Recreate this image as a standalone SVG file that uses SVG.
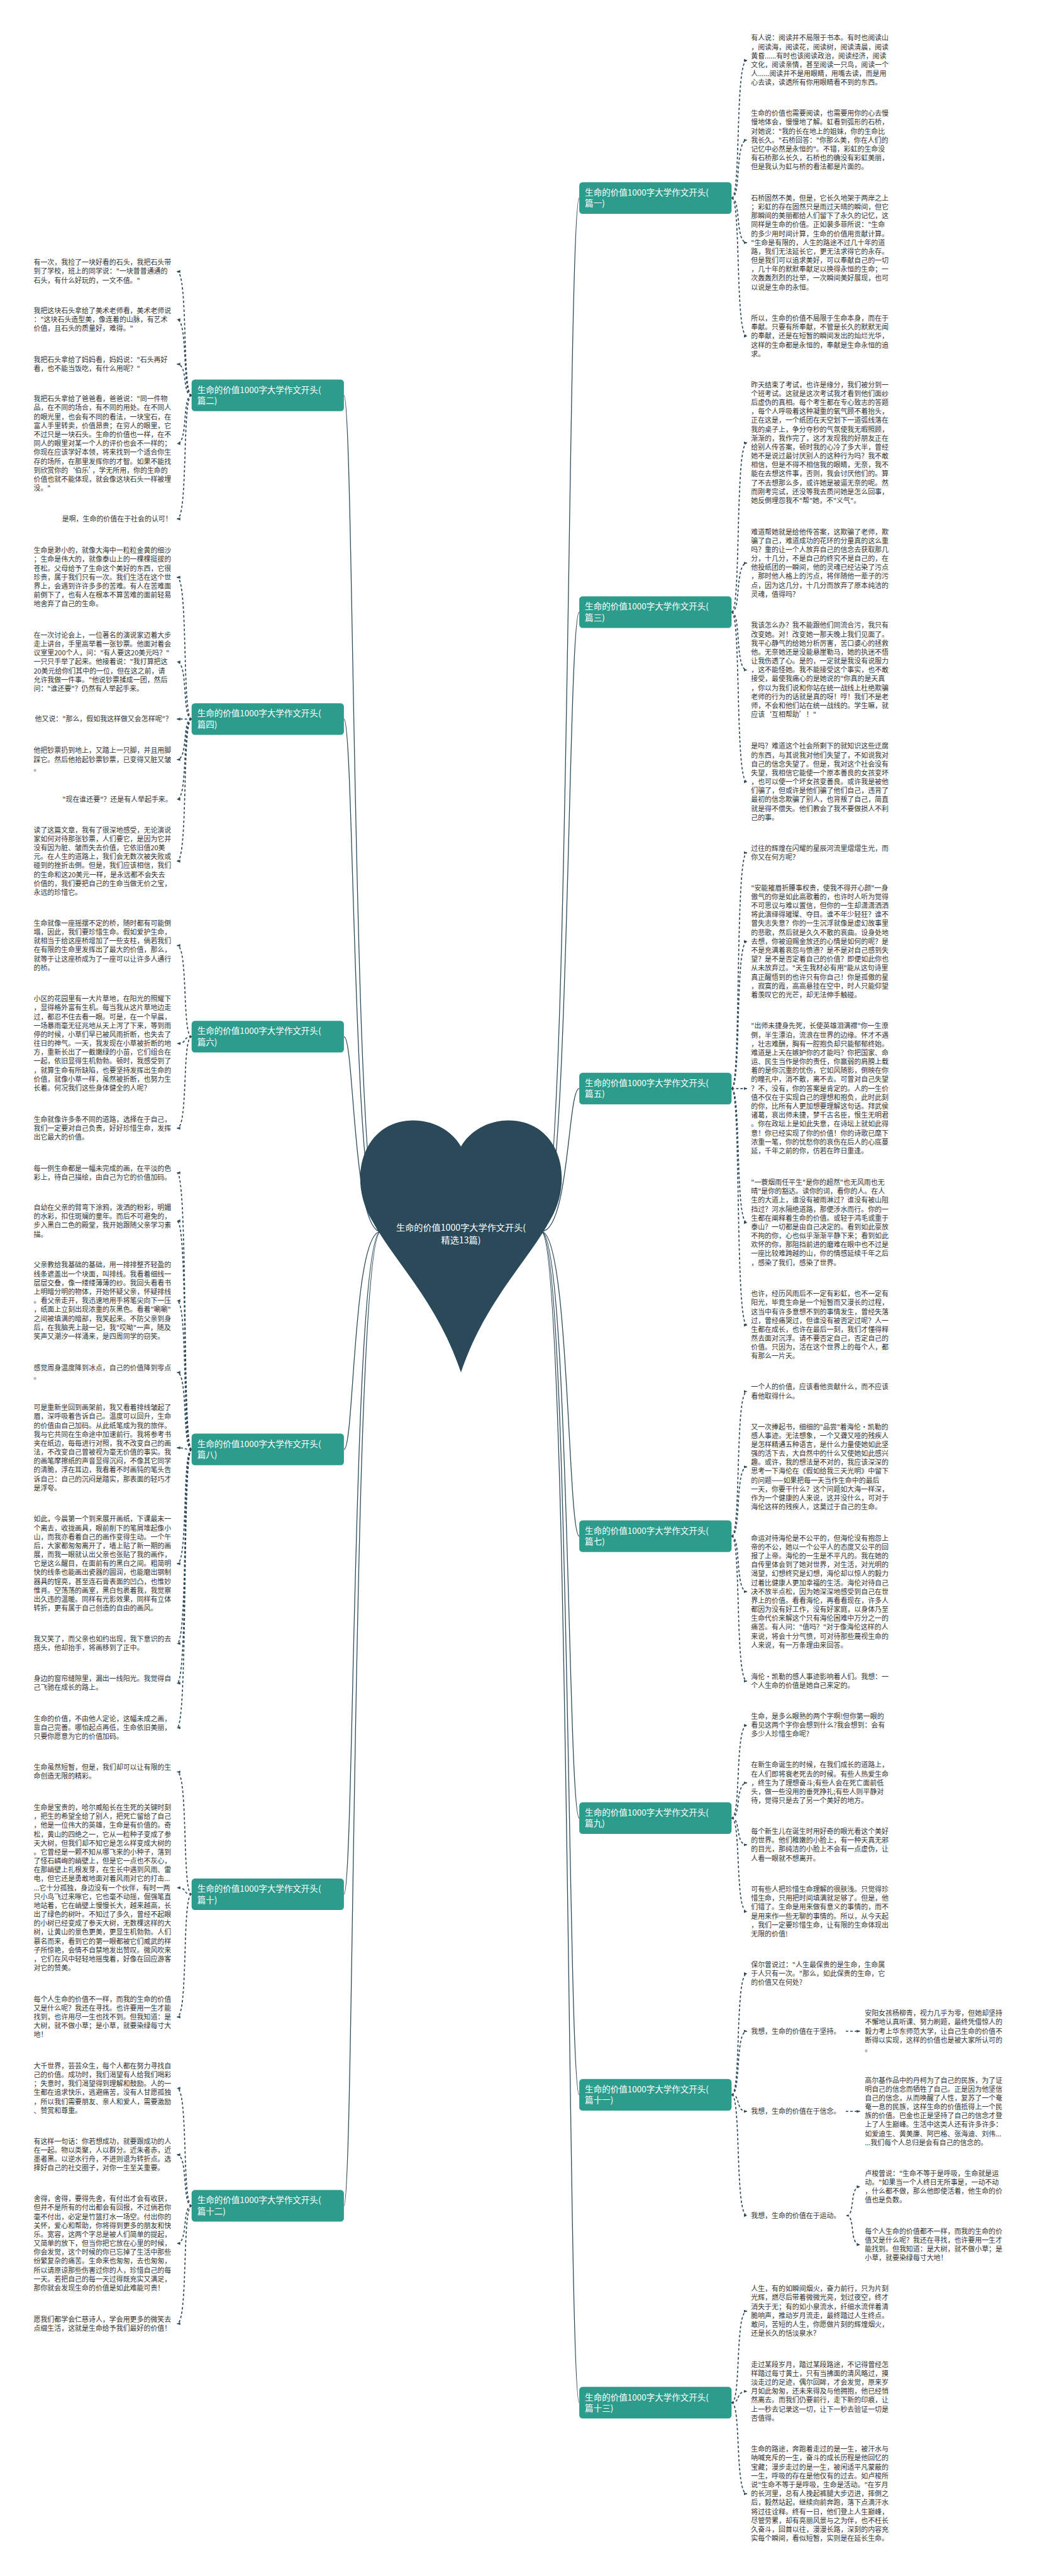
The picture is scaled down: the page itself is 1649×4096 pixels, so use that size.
<svg xmlns="http://www.w3.org/2000/svg" width="1649" height="4096" viewBox="0 0 1649 4096">
<style>
.t{font-family:"Noto Sans CJK SC","Noto Sans CJK JP",sans-serif;font-size:17px;fill:#333}
.e{text-anchor:end}
.nb{fill:#2e9c8c}
.nt{font-family:"Noto Sans CJK SC","Noto Sans CJK JP",sans-serif;font-size:21px;fill:#fff}
.rt{font-family:"Noto Sans CJK SC","Noto Sans CJK JP",sans-serif;font-size:22px;fill:#fff;text-anchor:middle}
.d{fill:none;stroke:#2c4a5a;stroke-width:2.6;stroke-dasharray:6 5;marker-end:url(#a)}
.s{fill:none;stroke:#2c4a5a;stroke-width:2}
</style>
<defs>
<marker id="a" viewBox="0 0 10 10" refX="9" refY="5" markerWidth="9" markerHeight="9" markerUnits="userSpaceOnUse" orient="auto"><path d="M0,1 L10,5 L0,9 z" fill="#2c4a5a"/></marker>
</defs>
<rect width="1649" height="4096" fill="#fff"/>
<g transform="scale(0.64414)">
<g id="connectors">
<g id="root-links">
<path class="s" d="M1336,3040 C1406,3040 1401,489 1430,489"/>
<path class="s" d="M1336,3040 C1406,3040 1401,1511 1430,1511"/>
<path class="s" d="M1336,3040 C1406,3040 1401,2687 1430,2687"/>
<path class="s" d="M1336,3040 C1406,3040 1401,3792 1430,3792"/>
<path class="s" d="M1336,3040 C1406,3040 1401,4488 1430,4488"/>
<path class="s" d="M1336,3040 C1406,3040 1401,5171 1430,5171"/>
<path class="s" d="M1336,3040 C1406,3040 1401,5931 1430,5931"/>
<path class="s" d="M940,3040 C870,3040 875,976 849,976"/>
<path class="s" d="M940,3040 C870,3040 875,1775 849,1775"/>
<path class="s" d="M940,3040 C870,3040 875,2559 849,2559"/>
<path class="s" d="M940,3040 C870,3040 875,3578 849,3578"/>
<path class="s" d="M940,3040 C870,3040 875,4676 849,4676"/>
<path class="s" d="M940,3040 C870,3040 875,5445 849,5445"/>
</g>
<g id="leaf-links-right">
<path class="d" d="M1806,489 C1830,489 1814,149 1844,149"/>
<path class="d" d="M1806,489 C1830,489 1814,346 1844,346"/>
<path class="d" d="M1806,489 C1830,489 1814,599 1844,599"/>
<path class="d" d="M1806,489 C1830,489 1814,830 1844,830"/>
<path class="d" d="M1806,1511 C1830,1511 1814,1093 1844,1093"/>
<path class="d" d="M1806,1511 C1830,1511 1814,1390 1844,1390"/>
<path class="d" d="M1806,1511 C1830,1511 1814,1654 1844,1654"/>
<path class="d" d="M1806,1511 C1830,1511 1814,1930 1844,1930"/>
<path class="d" d="M1806,2687 C1830,2687 1814,2105 1844,2105"/>
<path class="d" d="M1806,2687 C1830,2687 1814,2324 1844,2324"/>
<path class="d" d="M1806,2687 C1830,2687 1814,2687 1844,2687"/>
<path class="d" d="M1806,2687 C1830,2687 1814,3018 1844,3018"/>
<path class="d" d="M1806,2687 C1830,2687 1814,3271 1844,3271"/>
<path class="d" d="M1806,3792 C1830,3792 1814,3435 1844,3435"/>
<path class="d" d="M1806,3792 C1830,3792 1814,3621 1844,3621"/>
<path class="d" d="M1806,3792 C1830,3792 1814,3929 1844,3929"/>
<path class="d" d="M1806,3792 C1830,3792 1814,4150 1844,4150"/>
<path class="d" d="M1806,4488 C1830,4488 1814,4259 1844,4259"/>
<path class="d" d="M1806,4488 C1830,4488 1814,4401 1844,4401"/>
<path class="d" d="M1806,4488 C1830,4488 1814,4554 1844,4554"/>
<path class="d" d="M1806,4488 C1830,4488 1814,4719 1844,4719"/>
<path class="d" d="M1806,5171 C1830,5171 1814,4872 1844,4872"/>
<path class="d" d="M1806,5171 C1830,5171 1814,5014 1844,5014"/>
<path class="d" d="M1806,5171 C1830,5171 1814,5212 1844,5212"/>
<path class="d" d="M1806,5171 C1830,5171 1814,5469 1844,5469"/>
<path class="d" d="M2088,5014 L2123,5014"/>
<path class="d" d="M2088,5212 L2123,5212"/>
<path class="d" d="M2090,5469 C2112,5469 2096,5398 2123,5398"/>
<path class="d" d="M2090,5469 C2112,5469 2096,5541 2123,5541"/>
<path class="d" d="M1806,5931 C1830,5931 1814,5705 1844,5705"/>
<path class="d" d="M1806,5931 C1830,5931 1814,5903 1844,5903"/>
<path class="d" d="M1806,5931 C1830,5931 1814,6156 1844,6156"/>
</g>
<g id="leaf-links-left">
<path class="d" d="M473,976 C449,976 465,670 437,670"/>
<path class="d" d="M473,976 C449,976 465,789 437,789"/>
<path class="d" d="M473,976 C449,976 465,899 437,899"/>
<path class="d" d="M473,976 C449,976 465,1095 437,1095"/>
<path class="d" d="M473,976 C449,976 465,1281 437,1281"/>
<path class="d" d="M473,1775 C449,1775 465,1425 437,1425"/>
<path class="d" d="M473,1775 C449,1775 465,1634 437,1634"/>
<path class="d" d="M473,1775 C449,1775 465,1775 437,1775"/>
<path class="d" d="M473,1775 C449,1775 465,1875 437,1875"/>
<path class="d" d="M473,1775 C449,1775 465,1973 437,1973"/>
<path class="d" d="M473,1775 C449,1775 465,2126 437,2126"/>
<path class="d" d="M473,2559 C449,2559 465,2334 437,2334"/>
<path class="d" d="M473,2559 C449,2559 465,2576 437,2576"/>
<path class="d" d="M473,2559 C449,2559 465,2785 437,2785"/>
<path class="d" d="M473,3578 C449,3578 465,2895 437,2895"/>
<path class="d" d="M473,3578 C449,3578 465,3014 437,3014"/>
<path class="d" d="M473,3578 C449,3578 465,3211 437,3211"/>
<path class="d" d="M473,3578 C449,3578 465,3388 437,3388"/>
<path class="d" d="M473,3578 C449,3578 465,3574 437,3574"/>
<path class="d" d="M473,3578 C449,3578 465,3860 437,3860"/>
<path class="d" d="M473,3578 C449,3578 465,4057 437,4057"/>
<path class="d" d="M473,3578 C449,3578 465,4155 437,4155"/>
<path class="d" d="M473,3578 C449,3578 465,4265 437,4265"/>
<path class="d" d="M473,4676 C449,4676 465,4374 437,4374"/>
<path class="d" d="M473,4676 C449,4676 465,4660 437,4660"/>
<path class="d" d="M473,4676 C449,4676 465,4979 437,4979"/>
<path class="d" d="M473,5445 C449,5445 465,5155 437,5155"/>
<path class="d" d="M473,5445 C449,5445 465,5319 437,5319"/>
<path class="d" d="M473,5445 C449,5445 465,5538 437,5538"/>
<path class="d" d="M473,5445 C449,5445 465,5736 437,5736"/>
</g>
</g>

<g id="root">
<path fill="#2a4a5a" d="M1138,2830 C1100,2765 1010,2748 950,2785 C880,2830 872,2935 918,3012 C978,3120 1080,3215 1138,3388 C1196,3215 1298,3120 1358,3012 C1404,2935 1396,2830 1326,2785 C1266,2748 1176,2765 1138,2830 Z"/>
<text class="rt" x="1138" y="3038">生命的价值1000字大学作文开头(<tspan x="1138" dy="32">精选13篇)</tspan></text>
</g>

<g id="n1"><rect class="nb" x="1430" y="450" width="376" height="78" rx="8"/><text class="nt" x="1444" y="483">生命的价值1000字大学作文开头(<tspan x="1444" dy="27">篇一)</tspan></text></g>
<g id="n3"><rect class="nb" x="1430" y="1472" width="376" height="78" rx="8"/><text class="nt" x="1444" y="1505">生命的价值1000字大学作文开头(<tspan x="1444" dy="27">篇三)</tspan></text></g>
<g id="n5"><rect class="nb" x="1430" y="2648" width="376" height="78" rx="8"/><text class="nt" x="1444" y="2681">生命的价值1000字大学作文开头(<tspan x="1444" dy="27">篇五)</tspan></text></g>
<g id="n7"><rect class="nb" x="1430" y="3753" width="376" height="78" rx="8"/><text class="nt" x="1444" y="3786">生命的价值1000字大学作文开头(<tspan x="1444" dy="27">篇七)</tspan></text></g>
<g id="n9"><rect class="nb" x="1430" y="4449" width="376" height="78" rx="8"/><text class="nt" x="1444" y="4482">生命的价值1000字大学作文开头(<tspan x="1444" dy="27">篇九)</tspan></text></g>
<g id="n11"><rect class="nb" x="1430" y="5132" width="376" height="78" rx="8"/><text class="nt" x="1444" y="5165">生命的价值1000字大学作文开头(<tspan x="1444" dy="27">篇十一)</tspan></text></g>
<g id="n13"><rect class="nb" x="1430" y="5892" width="376" height="78" rx="8"/><text class="nt" x="1444" y="5925">生命的价值1000字大学作文开头(<tspan x="1444" dy="27">篇十三)</tspan></text></g>
<g id="n2"><rect class="nb" x="473" y="937" width="376" height="78" rx="8"/><text class="nt" x="487" y="970">生命的价值1000字大学作文开头(<tspan x="487" dy="27">篇二)</tspan></text></g>
<g id="n4"><rect class="nb" x="473" y="1736" width="376" height="78" rx="8"/><text class="nt" x="487" y="1769">生命的价值1000字大学作文开头(<tspan x="487" dy="27">篇四)</tspan></text></g>
<g id="n6"><rect class="nb" x="473" y="2520" width="376" height="78" rx="8"/><text class="nt" x="487" y="2553">生命的价值1000字大学作文开头(<tspan x="487" dy="27">篇六)</tspan></text></g>
<g id="n8"><rect class="nb" x="473" y="3539" width="376" height="78" rx="8"/><text class="nt" x="487" y="3572">生命的价值1000字大学作文开头(<tspan x="487" dy="27">篇八)</tspan></text></g>
<g id="n10"><rect class="nb" x="473" y="4637" width="376" height="78" rx="8"/><text class="nt" x="487" y="4670">生命的价值1000字大学作文开头(<tspan x="487" dy="27">篇十)</tspan></text></g>
<g id="n12"><rect class="nb" x="473" y="5406" width="376" height="78" rx="8"/><text class="nt" x="487" y="5439">生命的价值1000字大学作文开头(<tspan x="487" dy="27">篇十二)</tspan></text></g>

<g id="r1"><text class="t" x="1854" y="100">有人说：阅读并不局限于书本。有时也阅读山<tspan x="1854" dy="22">，阅读海，阅读花，阅读树，阅读清晨，阅读</tspan><tspan x="1854" dy="22">黄昏......有时也该阅读政治，阅读经济，阅读</tspan><tspan x="1854" dy="22">文化，阅读亲情，甚至阅读一只鸟，阅读一个</tspan><tspan x="1854" dy="22">人......阅读并不是用眼睛，用嘴去读，而是用</tspan><tspan x="1854" dy="22">心去读，读透所有你用眼睛看不到的东西。</tspan></text></g>
<g id="r2"><text class="t" x="1854" y="286">生命的价值也需要阅读，也需要用你的心去慢<tspan x="1854" dy="22">慢地体会，慢慢地了解。虹看到弧形的石桥，</tspan><tspan x="1854" dy="22">对她说："我的长在地上的姐妹，你的生命比</tspan><tspan x="1854" dy="22">我长久。"石桥回答："你那么美，你在人们的</tspan><tspan x="1854" dy="22">记忆中必然是永恒的"。不错，彩虹的生命没</tspan><tspan x="1854" dy="22">有石桥那么长久，石桥也的确没有彩虹美丽，</tspan><tspan x="1854" dy="22">但是我认为虹与桥的看法都是片面的。</tspan></text></g>
<g id="r3"><text class="t" x="1854" y="495">石桥固然不美，但是，它长久地架于两岸之上<tspan x="1854" dy="22">；彩虹的存在固然只是雨过天晴的瞬间，但它</tspan><tspan x="1854" dy="22">那瞬间的美丽都给人们留下了永久的记忆，这</tspan><tspan x="1854" dy="22">同样是生命的价值。正如裴多菲所说："生命</tspan><tspan x="1854" dy="22">的多少用时间计算，生命的价值用贡献计算。</tspan><tspan x="1854" dy="22">"生命是有限的，人生的路途不过几十年的道</tspan><tspan x="1854" dy="22">路，我们无法延长它，更无法求得它的永存。</tspan><tspan x="1854" dy="22">但是我们可以追求美好，可以奉献自己的一切</tspan><tspan x="1854" dy="22">，几十年的默默奉献足以换得永恒的生命；一</tspan><tspan x="1854" dy="22">次轰轰烈烈的壮举，一次瞬间美好展现，也可</tspan><tspan x="1854" dy="22">以说是生命的永恒。</tspan></text></g>
<g id="r4"><text class="t" x="1854" y="792">所以，生命的价值不局限于生命本身，而在于<tspan x="1854" dy="22">奉献。只要有所奉献，不管是长久的默默无闻</tspan><tspan x="1854" dy="22">的奉献，还是在短暂的瞬间发出的灿烂光华，</tspan><tspan x="1854" dy="22">这样的生命都是永恒的，奉献是生命永恒的追</tspan><tspan x="1854" dy="22">求。</tspan></text></g>
<g id="r5"><text class="t" x="1854" y="956">昨天结束了考试，也许是缘分，我们被分到一<tspan x="1854" dy="22">个班考试。这就是这次考试我才看到他们面纱</tspan><tspan x="1854" dy="22">后虚伪的真相。每个考生都在专心致志的答题</tspan><tspan x="1854" dy="22">，每个人呼吸着这种凝重的氧气顾不着抬头，</tspan><tspan x="1854" dy="22">正在这是，一个纸团在天空划下一道弧线落在</tspan><tspan x="1854" dy="22">我的桌子上，争分夺秒的气氛使我无暇照顾，</tspan><tspan x="1854" dy="22">渐渐的，我作完了，这才发现我的好朋友正在</tspan><tspan x="1854" dy="22">给别人传答案，顿时我的心冷了多大半，曾经</tspan><tspan x="1854" dy="22">她不是说过最讨厌别人的这种行为吗？我不敢</tspan><tspan x="1854" dy="22">相信，但是不得不相信我的眼睛，无奈，我不</tspan><tspan x="1854" dy="22">能在去想这件事，否则，我会讨厌他们的。算</tspan><tspan x="1854" dy="22">了不去想那么多，或许她是被逼无奈的呢。然</tspan><tspan x="1854" dy="22">而刚考完试，还没等我去质问她是怎么回事，</tspan><tspan x="1854" dy="22">她反倒埋怨我不"帮"她，不"义气"。</tspan></text></g>
<g id="r6"><text class="t" x="1854" y="1319">难道帮她就是给他传答案，这欺骗了老师，欺<tspan x="1854" dy="22">骗了自己，难道成功的花环的分量真的这么重</tspan><tspan x="1854" dy="22">吗？重的让一个人放弃自己的信念去获取那几</tspan><tspan x="1854" dy="22">分，十几分，不是自己的终究不是自己的，在</tspan><tspan x="1854" dy="22">他投纸团的一瞬间，他的灵魂已经沾染了污点</tspan><tspan x="1854" dy="22">，那时他人格上的污点，将伴随他一辈子的污</tspan><tspan x="1854" dy="22">点，因为这几分，十几分而放弃了原本纯洁的</tspan><tspan x="1854" dy="22">灵魂，值得吗？</tspan></text></g>
<g id="r7"><text class="t" x="1854" y="1550">我该怎么办？我不能跟他们同流合污，我只有<tspan x="1854" dy="22">改变她。对！改变她一那天晚上我们见面了。</tspan><tspan x="1854" dy="22">我平心静气的给她分析厉害，苦口婆心的拯救</tspan><tspan x="1854" dy="22">他。无奈她还是没能悬崖勒马，她的执迷不悟</tspan><tspan x="1854" dy="22">让我伤透了心。是的，一定就是我没有说服力</tspan><tspan x="1854" dy="22">，这不能怪她。我不能接受这个事实，也不敢</tspan><tspan x="1854" dy="22">接受，最使我痛心的是她说的"你真的是天真</tspan><tspan x="1854" dy="22">，你以为我们说和你站在统一战线上杜绝欺骗</tspan><tspan x="1854" dy="22">老师的行为的话就是真的呀！哼！我们不是老</tspan><tspan x="1854" dy="22">师，不会和他们站在统一战线的。学生嘛，就</tspan><tspan x="1854" dy="22">应该‘互相帮助’！"</tspan></text></g>
<g id="r8"><text class="t" x="1854" y="1848">是吗？难道这个社会所剩下的就知识这些迂腐<tspan x="1854" dy="22">的东西，与其说我对他们失望了，不如说我对</tspan><tspan x="1854" dy="22">自己的信念失望了。但是，我对这个社会没有</tspan><tspan x="1854" dy="22">失望，我相信它能使一个原本善良的女孩变坏</tspan><tspan x="1854" dy="22">，也可以使一个坏女孩变善良。或许我是被他</tspan><tspan x="1854" dy="22">们骗了，但或许是他们骗了他们自己，违背了</tspan><tspan x="1854" dy="22">最初的信念欺骗了别人，也背叛了自己，简直</tspan><tspan x="1854" dy="22">就是得不偿失。他们教会了我不要做损人不利</tspan><tspan x="1854" dy="22">己的事。</tspan></text></g>
<g id="r9"><text class="t" x="1854" y="2100">过往的辉煌在闪耀的星辰河流里熠熠生光，而<tspan x="1854" dy="22">你又在何方呢？</tspan></text></g>
<g id="r10"><text class="t" x="1854" y="2198">"安能摧眉折腰事权贵，使我不得开心颜"一身<tspan x="1854" dy="22">傲气的你是如此高歌着的，也许时人听为觉得</tspan><tspan x="1854" dy="22">不可思议与难以置信，但你的一生却潇潇洒洒</tspan><tspan x="1854" dy="22">将此演绎得璀璨、夺目。谁不年少轻狂？谁不</tspan><tspan x="1854" dy="22">曾失志失意？你的一生沉浮就像是虚幻故事里</tspan><tspan x="1854" dy="22">的悲歌，然后就是久久不散的哀曲。设身处地</tspan><tspan x="1854" dy="22">去想，你被迫赐金放还的心情是如何的呢？是</tspan><tspan x="1854" dy="22">不是充满着哀怨与愤懑？是不是对自己感到失</tspan><tspan x="1854" dy="22">望？是不是否定着自己的价值？即便如此你也</tspan><tspan x="1854" dy="22">从未放弃过。"天生我材必有用"能从这句诗里</tspan><tspan x="1854" dy="22">真正醒悟到的也许只有你自己！你是孤傲的星</tspan><tspan x="1854" dy="22">，寂寞的霞，高高悬挂在空中，时人只能仰望</tspan><tspan x="1854" dy="22">着羡叹它的光芒，却无法伸手触碰。</tspan></text></g>
<g id="r11"><text class="t" x="1854" y="2539">"出师未捷身先死，长使英雄泪满襟"你一生潦<tspan x="1854" dy="22">倒，半生漂泊，流浪在世界的边缘。怀才不遇</tspan><tspan x="1854" dy="22">，壮志难酬，胸有一腔抱负却只能郁郁终始。</tspan><tspan x="1854" dy="22">难道是上天在嫉妒你的才能吗？你把国家、命</tspan><tspan x="1854" dy="22">运、民生当作是你的责任，你羸弱的肩膀上载</tspan><tspan x="1854" dy="22">着的是你沉重的忧伤，它如风随影，倒映在你</tspan><tspan x="1854" dy="22">的瞳孔中，消不散，离不去。可曾对自己失望</tspan><tspan x="1854" dy="22">？不，没有，你的答案是肯定的。人的一生价</tspan><tspan x="1854" dy="22">值不仅在于实现自己的理想和抱负，此时此刻</tspan><tspan x="1854" dy="22">的你，比所有人更加想要理解这句话。拜武侯</tspan><tspan x="1854" dy="22">诸葛，哀出师未捷，梦千古名臣，恨生无明君</tspan><tspan x="1854" dy="22">。你在政坛上是如此失意，在诗坛上就如此得</tspan><tspan x="1854" dy="22">意！你已经实现了你的价值！你的诗歌已麾下</tspan><tspan x="1854" dy="22">浓重一笔，你的忧愁你的哀伤在后人的心底蔓</tspan><tspan x="1854" dy="22">延，千年之前的你，仿若在昨日重逢。</tspan></text></g>
<g id="r12"><text class="t" x="1854" y="2925">"一蓑烟雨任平生"是你的超然"也无风雨也无<tspan x="1854" dy="22">晴"是你的豁达。读你的词，看你的人。在人</tspan><tspan x="1854" dy="22">生的大道上，谁没有被雨淋过？谁没有被山阻</tspan><tspan x="1854" dy="22">挡过？河水隔绝道路，那便涉水而行。你的一</tspan><tspan x="1854" dy="22">生都在阐释着生命的价值。或轻于鸿毛或重于</tspan><tspan x="1854" dy="22">泰山？一切都是由自己决定的。看到如此豪放</tspan><tspan x="1854" dy="22">不拘的你，心也似乎渐渐平静下来；看到如此</tspan><tspan x="1854" dy="22">欢怀的你，那阻挡前进的磨难在眼中也不过是</tspan><tspan x="1854" dy="22">一座比较难跨越的山，你的情感延续千年之后</tspan><tspan x="1854" dy="22">，感染了我们，感染了世界。</tspan></text></g>
<g id="r13"><text class="t" x="1854" y="3200">也许，经历风雨后不一定有彩虹，也不一定有<tspan x="1854" dy="22">阳光，毕竟生命是一个短暂而又漫长的过程，</tspan><tspan x="1854" dy="22">这当中有许多意想不到的事情发生，曾经失落</tspan><tspan x="1854" dy="22">过，曾经痛哭过，但谁没有被否定过呢？人一</tspan><tspan x="1854" dy="22">生都在成长，也许在最后一刻，我们才懂得释</tspan><tspan x="1854" dy="22">然去面对沉浮。请不要否定自己，否定自己的</tspan><tspan x="1854" dy="22">价值。只因为，活在这个世界上的每个人，都</tspan><tspan x="1854" dy="22">有那么一片天。</tspan></text></g>
<g id="r14"><text class="t" x="1854" y="3430">一个人的价值，应该看他贡献什么，而不应该<tspan x="1854" dy="22">看他取得什么。</tspan></text></g>
<g id="r15"><text class="t" x="1854" y="3528">又一次捧起书，细细的"品尝"着海伦·凯勒的<tspan x="1854" dy="22">感人事迹。无法想象，一个又聋又哑的残疾人</tspan><tspan x="1854" dy="22">是怎样精通五种语言，是什么力量使她如此坚</tspan><tspan x="1854" dy="22">强的活下去，大自然中的什么又使她如此感兴</tspan><tspan x="1854" dy="22">趣。或许，我的想法是不对的，我应该深深的</tspan><tspan x="1854" dy="22">思考一下海伦在《假如给我三天光明》中留下</tspan><tspan x="1854" dy="22">的问题——如果把每一天当作生命中的最后</tspan><tspan x="1854" dy="22">一天，你要干什么？这个问题如大海一样深，</tspan><tspan x="1854" dy="22">作为一个健康的人来说，这并没什么，可对于</tspan><tspan x="1854" dy="22">海伦这样的残疾人，这莫过于自己的生命。</tspan></text></g>
<g id="r16"><text class="t" x="1854" y="3803">命运对待海伦是不公平的，但海伦没有抱怨上<tspan x="1854" dy="22">帝的不公，她以一个公平人的态度又公平的回</tspan><tspan x="1854" dy="22">报了上帝。海伦的一生是不平凡的。我在她的</tspan><tspan x="1854" dy="22">自传里体会到了她对世界，对生活，对光明的</tspan><tspan x="1854" dy="22">渴望，幻想终究是幻想，海伦却以惊人的毅力</tspan><tspan x="1854" dy="22">过着比健康人更加幸福的生活。海伦对待自己</tspan><tspan x="1854" dy="22">决不放半点松，因为她深深地感受到自己在世</tspan><tspan x="1854" dy="22">界上的价值。看看海伦，再看看现在，许多人</tspan><tspan x="1854" dy="22">都因为没有好工作，没有好家庭，以身体乃至</tspan><tspan x="1854" dy="22">生命代价来解这个只有海伦困难中万分之一的</tspan><tspan x="1854" dy="22">痛苦。有人问："值吗？"对于像海伦这样的人</tspan><tspan x="1854" dy="22">来说，将会十分气愤，可对待那些蔑视生命的</tspan><tspan x="1854" dy="22">人来说，有一万条理由来回答。</tspan></text></g>
<g id="r17"><text class="t" x="1854" y="4145">海伦·凯勒的感人事迹影响着人们。我想：一<tspan x="1854" dy="22">个人生命的价值是她自己来定的。</tspan></text></g>
<g id="r18"><text class="t" x="1854" y="4243">生命，是多么眼熟的两个字啊!但你第一眼的<tspan x="1854" dy="22">看见这两个字你会想到什么?我会想到：会有</tspan><tspan x="1854" dy="22">多少人珍惜生命呢?</tspan></text></g>
<g id="r19"><text class="t" x="1854" y="4363">在新生命诞生的时候，在我们成长的道路上，<tspan x="1854" dy="22">在人们即将衰老死去的时候。有些人热爱生命</tspan><tspan x="1854" dy="22">，终生为了理想奋斗;有些人会在死亡面前低</tspan><tspan x="1854" dy="22">头，做一些没用的垂死挣扎;有些人则平静对</tspan><tspan x="1854" dy="22">待，觉得只是去了另一个美好的地方。</tspan></text></g>
<g id="r20"><text class="t" x="1854" y="4527">每个新生儿在诞生时用好奇的眼光看这个美好<tspan x="1854" dy="22">的世界。他们稚嫩的小脸上，有一种天真无邪</tspan><tspan x="1854" dy="22">的目光，那纯洁的小脸上不会有一点虚伪，让</tspan><tspan x="1854" dy="22">人看一眼就不想离开。</tspan></text></g>
<g id="r21"><text class="t" x="1854" y="4670">可有些人把珍惜生命理解的很肤浅。只觉得珍<tspan x="1854" dy="22">惜生命，只用把时间填满就足够了。但是，他</tspan><tspan x="1854" dy="22">们错了。生命是用来做有意义的事情的，而不</tspan><tspan x="1854" dy="22">是用来作一些无聊的事情的。所以，从今天起</tspan><tspan x="1854" dy="22">，我们一定要珍惜生命，让有限的生命体现出</tspan><tspan x="1854" dy="22">无限的价值!</tspan></text></g>
<g id="r22"><text class="t" x="1854" y="4856">保尔曾说过："人生最保贵的是生命，生命属<tspan x="1854" dy="22">于人只有一次。"那么，如此保贵的生命，它</tspan><tspan x="1854" dy="22">的价值又在何处?</tspan></text></g>
<g id="r23"><text class="t" x="1854" y="5020">我想，生命的价值在于坚持。</text></g>
<g id="r24"><text class="t" x="1854" y="5218">我想，生命的价值在于信念。</text></g>
<g id="r25"><text class="t" x="1854" y="5475">我想，生命的价值在于运动。</text></g>
<g id="s1"><text class="t" x="2135" y="4976">安阳女孩杨柳青，视力几乎为零，但她却坚持<tspan x="2135" dy="22">不懈地认真听课、努力刷题，最终凭借惊人的</tspan><tspan x="2135" dy="22">毅力考上华东师范大学，让自己生命的价值不</tspan><tspan x="2135" dy="22">断得以实现，这样的价值也是被大家所认可的</tspan><tspan x="2135" dy="22">。</tspan></text></g>
<g id="s2"><text class="t" x="2135" y="5141">高尔基作品中的丹柯为了自己的民族，为了证<tspan x="2135" dy="22">明自己的信念而牺牲了自己。正是因为他坚信</tspan><tspan x="2135" dy="22">自己的信念，从而唤醒了人性，复苏了一个奄</tspan><tspan x="2135" dy="22">奄一息的民族，这样生命的价值抵得上一个民</tspan><tspan x="2135" dy="22">族的价值。巴金也正是坚持了自己的信念才登</tspan><tspan x="2135" dy="22">上了人生巅峰。生活中这类人还有许多许多：</tspan><tspan x="2135" dy="22">如爱迪生、黄美廉、阿巴格、张海迪、刘伟...</tspan><tspan x="2135" dy="22">...我们每个人总归是会有自己的信念的。</tspan></text></g>
<g id="s3"><text class="t" x="2135" y="5371">卢梭曾说："生命不等于是呼吸，生命就是运<tspan x="2135" dy="22">动。"如果当一个人终日无所事是，一动不动</tspan><tspan x="2135" dy="22">，什么都不做，那么他即使活着，他生命的价</tspan><tspan x="2135" dy="22">值也是负数。</tspan></text></g>
<g id="s4"><text class="t" x="2135" y="5514">每个人生命的价值都不一样，而我的生命的价<tspan x="2135" dy="22">值又是什么呢？我还在寻找，也许要用一生才</tspan><tspan x="2135" dy="22">能找到。但我知道：是大树，就不做小草；是</tspan><tspan x="2135" dy="22">小草，就要染绿每寸大地！</tspan></text></g>
<g id="r26"><text class="t" x="1854" y="5656">人生，有的如瞬间烟火，奋力前行，只为片刻<tspan x="1854" dy="22">光辉，燃尽后带着微微光亮，划过夜空，终才</tspan><tspan x="1854" dy="22">消失于无；有的如小泉流水，纤细水流伴着清</tspan><tspan x="1854" dy="22">脆响声，推动岁月流走，最终踏过人生终点。</tspan><tspan x="1854" dy="22">敢问，苦短的人生，你愿做片刻的辉煌烟火，</tspan><tspan x="1854" dy="22">还是长久的恬淡泉水？</tspan></text></g>
<g id="r27"><text class="t" x="1854" y="5843">走过某段岁月，踏过某段路途，不记得曾经怎<tspan x="1854" dy="22">样踏过每寸黄土，只有当拂面的清风略过，摸</tspan><tspan x="1854" dy="22">淡走过的足迹，偶尔回眸，才会发觉，原来岁</tspan><tspan x="1854" dy="22">月如此匆匆，还未来得及与他拥抱，他已经悄</tspan><tspan x="1854" dy="22">然离去。而我们仍要前行，走下新的印痕，让</tspan><tspan x="1854" dy="22">上一秒去记录这一切，让下一秒去验证一切是</tspan><tspan x="1854" dy="22">否值得。</tspan></text></g>
<g id="r28"><text class="t" x="1854" y="6052">生命的路途，奔跑着走过的是一生，被汗水与<tspan x="1854" dy="22">呐喊充斥的一生，奋斗的成长历程是他回忆的</tspan><tspan x="1854" dy="22">宝藏；漫步走过的是一生，被闲适平凡蒙蔽的</tspan><tspan x="1854" dy="22">一生，呼吸的存在是他仅有的过去。如卢梭所</tspan><tspan x="1854" dy="22">说"生命不等于是呼吸，生命是活动。"在岁月</tspan><tspan x="1854" dy="22">的长河里，总有人挽起裤腿大步迈进，摔倒之</tspan><tspan x="1854" dy="22">后，毅然站起，继续向前奔跑，落下点滴汗水</tspan><tspan x="1854" dy="22">将过往诠释。终有一日，他们登上人生巅峰，</tspan><tspan x="1854" dy="22">尽管劳累，却有亮丽风景与之为伴，也不枉长</tspan><tspan x="1854" dy="22">久奋斗，回首以往，漫漫长路，深刻的内容充</tspan><tspan x="1854" dy="22">实每个瞬间，看似短暂，实则是在延长生命。</tspan></text></g>

<g id="l1"><text class="t" x="83" y="654">有一次，我捡了一块好看的石头，我把石头带<tspan x="83" dy="22">到了学校，班上的同学说："一块普普通通的</tspan><tspan x="83" dy="22">石头，有什么好玩的，一文不值。"</tspan></text></g>
<g id="l2"><text class="t" x="83" y="773">我把这块石头拿给了美术老师看，美术老师说<tspan x="83" dy="22">："这块石头造型美，像连着的山脉，有艺术</tspan><tspan x="83" dy="22">价值，且石头的质量好，难得。"</tspan></text></g>
<g id="l3"><text class="t" x="83" y="894">我把石头拿给了妈妈看，妈妈说："石头再好<tspan x="83" dy="22">看，也不能当饭吃，有什么用呢？"</tspan></text></g>
<g id="l4"><text class="t" x="83" y="991">我把石头拿给了爸爸看，爸爸说："同一件物<tspan x="83" dy="22">品，在不同的场合，有不同的用处。在不同人</tspan><tspan x="83" dy="22">的眼光里，也会有不同的看法，一块宝石，在</tspan><tspan x="83" dy="22">富人手里转卖，价值昂贵；在穷人的眼里，它</tspan><tspan x="83" dy="22">不过只是一块石头。生命的价值也一样，在不</tspan><tspan x="83" dy="22">同人的眼里对某一个人的评价也会不一样的；</tspan><tspan x="83" dy="22">你现在应该学好本领，将来找到一个适合你生</tspan><tspan x="83" dy="22">存的场所，在那里发挥你的才智。如果不能找</tspan><tspan x="83" dy="22">到欣赏你的‘伯乐’，学无所用，你的生命的</tspan><tspan x="83" dy="22">价值也就不能体现，就会像这块石头一样被埋</tspan><tspan x="83" dy="22">没。"</tspan></text></g>
<g id="l5"><text class="t e" x="425" y="1287">是啊，生命的价值在于社会的认可！</text></g>
<g id="l6"><text class="t" x="83" y="1365">生命是渺小的，就像大海中一粒粒金黄的细沙<tspan x="83" dy="22">；生命是伟大的，就像泰山上的一棵棵挺拔的</tspan><tspan x="83" dy="22">苍松。父母给予了生命这个美好的东西，它很</tspan><tspan x="83" dy="22">珍贵，属于我们只有一次。我们生活在这个世</tspan><tspan x="83" dy="22">界上，会遇到许许多多的苦难。有人在苦难面</tspan><tspan x="83" dy="22">前倒下了，也有人在根本不算苦难的面前轻易</tspan><tspan x="83" dy="22">地舍弃了自己的生命。</tspan></text></g>
<g id="l7"><text class="t" x="83" y="1574">在一次讨论会上，一位著名的演说家迈着大步<tspan x="83" dy="22">走上讲台，手里高举着一张钞票。他面对着会</tspan><tspan x="83" dy="22">议室里200个人，问："有人要这20美元吗？"</tspan><tspan x="83" dy="22">一只只手举了起来。他接着说："我打算把这</tspan><tspan x="83" dy="22">20美元给你们其中的一位，但在这之前，请</tspan><tspan x="83" dy="22">允许我做一件事。"他说钞票揉成一团，然后</tspan><tspan x="83" dy="22">问："谁还要"？仍然有人举起手来。</tspan></text></g>
<g id="l8"><text class="t e" x="425" y="1781">他又说："那么，假如我这样做又会怎样呢"？</text></g>
<g id="l9"><text class="t" x="83" y="1859">他把钞票扔到地上，又踏上一只脚，并且用脚<tspan x="83" dy="22">踩它。然后他拾起钞票钞票，已变得又脏又皱</tspan><tspan x="83" dy="22">。</tspan></text></g>
<g id="l10"><text class="t e" x="425" y="1979">"现在谁还要"？还是有人举起手来。</text></g>
<g id="l11"><text class="t" x="83" y="2055">读了这篇文章，我有了很深地感受，无论演说<tspan x="83" dy="22">家如何对待那张钞票，人们要它，是因为它并</tspan><tspan x="83" dy="22">没有因为脏、皱而失去价值，它依旧值20美</tspan><tspan x="83" dy="22">元。在人生的道路上，我们会无数次被失败或</tspan><tspan x="83" dy="22">碰到的挫折击倒。但是，我们应该相信，我们</tspan><tspan x="83" dy="22">的生命和这20美元一样，是永远都不会失去</tspan><tspan x="83" dy="22">价值的，我们要把自己的生命当做无价之宝，</tspan><tspan x="83" dy="22">永远的珍惜它。</tspan></text></g>
<g id="l12"><text class="t" x="83" y="2285">生命就像一座摇摆不定的桥，随时都有可能倒<tspan x="83" dy="22">塌，因此，我们要珍惜生命。假如爱护生命，</tspan><tspan x="83" dy="22">就相当于给这座桥增加了一些支柱，倘若我们</tspan><tspan x="83" dy="22">在有限的生命里发挥出了最大的价值，那么，</tspan><tspan x="83" dy="22">就等于让这座桥成为了一座可以让许多人通行</tspan><tspan x="83" dy="22">的桥。</tspan></text></g>
<g id="l13"><text class="t" x="83" y="2472">小区的花园里有一大片草地，在阳光的照耀下<tspan x="83" dy="22">，显得格外富有生机。每当我从这片草地边走</tspan><tspan x="83" dy="22">过，都忍不住去看一眼。可是，在一个早晨，</tspan><tspan x="83" dy="22">一场暴雨毫无征兆地从天上泻了下来，等到雨</tspan><tspan x="83" dy="22">停的时候，小草们早已被风雨折断，也失去了</tspan><tspan x="83" dy="22">往日的神气。一天，我发现在小草被折断的地</tspan><tspan x="83" dy="22">方，重新长出了一截嫩绿的小苗，它们组合在</tspan><tspan x="83" dy="22">一起，依旧显得生机勃勃。顿时，我感受到了</tspan><tspan x="83" dy="22">，就算生命有所缺陷，也要坚持发挥出生命的</tspan><tspan x="83" dy="22">价值，就像小草一样，虽然被折断，也努力生</tspan><tspan x="83" dy="22">长着。何况我们这些身体健全的人呢？</tspan></text></g>
<g id="l14"><text class="t" x="83" y="2769">生命就像许多条不同的道路，选择在于自己，<tspan x="83" dy="22">我们一定要对自己负责，好好珍惜生命，发挥</tspan><tspan x="83" dy="22">出它最大的价值。</tspan></text></g>
<g id="l15"><text class="t" x="83" y="2890">每一例生命都是一幅未完成的画，在平淡的色<tspan x="83" dy="22">彩上，待自己描绘，由自己为它的价值加码。</tspan></text></g>
<g id="l16"><text class="t" x="83" y="2987">自幼在父亲的臂弯下涂鸦，泼洒的粉彩，明媚<tspan x="83" dy="22">的水彩，扣住斑斓的童年。而后不可避免的，</tspan><tspan x="83" dy="22">步入黑白二色的殿堂，我开始跟随父亲学习素</tspan><tspan x="83" dy="22">描。</tspan></text></g>
<g id="l17"><text class="t" x="83" y="3129">父亲教给我基础的基础，用一排排整齐轻盈的<tspan x="83" dy="22">线条遮盖出一个块面，叫排线。我看着细线一</tspan><tspan x="83" dy="22">层层交叠，像一缕缕薄薄的纱。我回头看看书</tspan><tspan x="83" dy="22">上明暗分明的物体，开始怀疑父亲，怀疑排线</tspan><tspan x="83" dy="22">。看父亲走开，我迅速地用手将笔尖向下一压</tspan><tspan x="83" dy="22">，纸面上立刻出现浓重的灰黑色。看着"唰唰"</tspan><tspan x="83" dy="22">之间被填满的暗部，我笑起来。不防父亲到身</tspan><tspan x="83" dy="22">后，在我脑壳上敲一记，我"哎呦"一声，随及</tspan><tspan x="83" dy="22">笑声又潮汐一样涌来，是四周同学的窃笑。</tspan></text></g>
<g id="l18"><text class="t" x="83" y="3383">感觉周身温度降到冰点，自己的价值降到零点<tspan x="83" dy="22">。</tspan></text></g>
<g id="l19"><text class="t" x="83" y="3481">可是重新坐回到画架前，我又看着排线皱起了<tspan x="83" dy="22">眉，深呼吸着告诉自己。温度可以回升，生命</tspan><tspan x="83" dy="22">的价值由自己加码。从此纸笔成为我的旅伴。</tspan><tspan x="83" dy="22">我与它共同在生命途中加速前行。我将参考书</tspan><tspan x="83" dy="22">夹在纸边，每每进行对照，我不改变自己的画</tspan><tspan x="83" dy="22">法，不改变自己曾被视为毫无价值的事实。我</tspan><tspan x="83" dy="22">的画笔摩擦纸的声音显得沉闷，不像其它同学</tspan><tspan x="83" dy="22">的清脆，浮在耳边，我看着不时画钝的笔头告</tspan><tspan x="83" dy="22">诉自己：自己的沉闷是踏实，那表面的轻巧才</tspan><tspan x="83" dy="22">是浮夸。</tspan></text></g>
<g id="l20"><text class="t" x="83" y="3756">如此，今晨第一个到来展开画纸，下课最末一<tspan x="83" dy="22">个离去，收拢画具，眼前削下的笔屑堆起像小</tspan><tspan x="83" dy="22">山，而我亦看着自己的画作变得生动。一个午</tspan><tspan x="83" dy="22">后，大家都匆匆离开了，墙上贴了新一期的画</tspan><tspan x="83" dy="22">展，而我一眼就认出父亲也张贴了我的画作，</tspan><tspan x="83" dy="22">它是这么醒目，在面前有的黑白之间。粗简明</tspan><tspan x="83" dy="22">快的线条也能画出瓷器的圆润，也能磨出钢制</tspan><tspan x="83" dy="22">器具的锃亮，甚至连石膏表面的凹凸，也惟妙</tspan><tspan x="83" dy="22">惟肖。空荡荡的画室，黑白包裹着我，我觉察</tspan><tspan x="83" dy="22">出久违的温暖。同样有光影效果，同样有立体</tspan><tspan x="83" dy="22">转折，更有属于自己创造的自由的画风。</tspan></text></g>
<g id="l21"><text class="t" x="83" y="4052">我又笑了，而父亲也如约出现，我下意识的去<tspan x="83" dy="22">捂头，他却抬手，将画移到了正中。</tspan></text></g>
<g id="l22"><text class="t" x="83" y="4150">身边的窗帘缝隙里，漏出一线阳光。我觉得自<tspan x="83" dy="22">己飞驰在成长的路上。</tspan></text></g>
<g id="l23"><text class="t" x="83" y="4249">生命的价值，不由他人定论，这幅未成之画，<tspan x="83" dy="22">靠自己完善。哪怕起点再低，生命依旧美丽，</tspan><tspan x="83" dy="22">只要你愿意为它的价值加码。</tspan></text></g>
<g id="l24"><text class="t" x="83" y="4369">生命虽然短暂，但是，我们却可以让有限的生<tspan x="83" dy="22">命创造无限的精彩。</tspan></text></g>
<g id="l25"><text class="t" x="83" y="4468">生命是宝贵的，哈尔威船长在生死的关键时刻<tspan x="83" dy="22">，把生的希望全给了别人，把死亡留给了自己</tspan><tspan x="83" dy="22">，他是一位伟大的英雄，生命是有价值的。奇</tspan><tspan x="83" dy="22">松，黄山的四绝之一，它从一粒种子变成了参</tspan><tspan x="83" dy="22">天大树，但我们却不知它是怎么样变成大树的</tspan><tspan x="83" dy="22">。它曾经是一颗不知从哪飞来的小种子，落到</tspan><tspan x="83" dy="22">了怪石嶙峋的峭壁上，但是它一点也不灰心，</tspan><tspan x="83" dy="22">在那峭壁上扎根发芽，在生长中遇到风雨、雷</tspan><tspan x="83" dy="22">电，但它还是勇敢地面对着风雨对它的打击...</tspan><tspan x="83" dy="22">...它十分孤独，身边没有一个伙伴，有时一两</tspan><tspan x="83" dy="22">只小鸟飞过来啄它，它也毫不动摇，倔强笔直</tspan><tspan x="83" dy="22">地站着，它在峭壁上慢慢长大，越来越高，长</tspan><tspan x="83" dy="22">出了绿色的树叶。不知过了多久，曾经不起眼</tspan><tspan x="83" dy="22">的小树已经变成了参天大树，无数棵这样的大</tspan><tspan x="83" dy="22">树，让黄山的景色更美，更显生机勃勃。人们</tspan><tspan x="83" dy="22">慕名而来，看到它的第一眼都被它们威武的样</tspan><tspan x="83" dy="22">子所惊艳，会情不自禁地发出赞叹。微风吹来</tspan><tspan x="83" dy="22">，它们在风中轻轻地摇曳着，好像在回应游客</tspan><tspan x="83" dy="22">对它的赞美。</tspan></text></g>
<g id="l26"><text class="t" x="83" y="4941">每个人生命的价值不一样，而我的生命的价值<tspan x="83" dy="22">又是什么呢？我还在寻找。也许要用一生才能</tspan><tspan x="83" dy="22">找到，也许用尽一生也找不到。但我知道：是</tspan><tspan x="83" dy="22">大树，就不做小草；是小草，就要染绿每寸大</tspan><tspan x="83" dy="22">地！</tspan></text></g>
<g id="l27"><text class="t" x="83" y="5106">大千世界，芸芸众生，每个人都在努力寻找自<tspan x="83" dy="22">己的价值。成功时，我们渴望有人给我们喝彩</tspan><tspan x="83" dy="22">；失意时，我们渴望得到理解和鼓励。人的一</tspan><tspan x="83" dy="22">生都在追求快乐，逃避痛苦，没有人甘愿孤独</tspan><tspan x="83" dy="22">，所以我们需要朋友、亲人和爱人，需要激励</tspan><tspan x="83" dy="22">、赞赏和尊重。</tspan></text></g>
<g id="l28"><text class="t" x="83" y="5292">有这样一句话：你若想成功，就要跟成功的人<tspan x="83" dy="22">在一起。物以类聚，人以群分。近朱者赤，近</tspan><tspan x="83" dy="22">墨者黑。以逆水行舟，不进则退为转折点。选</tspan><tspan x="83" dy="22">择好自己的社交圈子，对你一生至关重要。</tspan></text></g>
<g id="l29"><text class="t" x="83" y="5434">舍得，舍得，要得先舍，有付出才会有收获，<tspan x="83" dy="22">但并不是所有的付出都会有回报，不过倘若你</tspan><tspan x="83" dy="22">毫不付出，必定是竹篮打水一场空。付出你的</tspan><tspan x="83" dy="22">关怀，爱心和帮助，你将得到更多的朋友和快</tspan><tspan x="83" dy="22">乐。宽容，这两个字总是被人们简单的提起，</tspan><tspan x="83" dy="22">又简单的放下，但当你把它放在心里的时候，</tspan><tspan x="83" dy="22">你会发觉，这个时候的你已忘掉了生活中那些</tspan><tspan x="83" dy="22">纷繁复杂的痛苦。生命来也匆匆，去也匆匆，</tspan><tspan x="83" dy="22">所以请原谅那些伤害过你的人，珍惜自己的每</tspan><tspan x="83" dy="22">一天。若把自己的每一天过得既充实又满足，</tspan><tspan x="83" dy="22">那你就会发现生命的价值是如此难能可贵！</tspan></text></g>
<g id="l30"><text class="t" x="83" y="5731">愿我们都学会仁慈诗人，学会用更多的微笑去<tspan x="83" dy="22">点缀生活，这就是生命给予我们最好的价值！</tspan></text></g>
</g>
</svg>
